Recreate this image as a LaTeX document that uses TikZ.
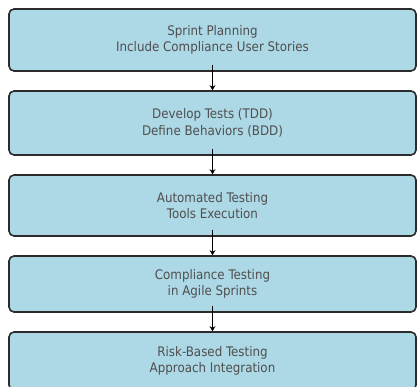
\documentclass[tikz,border=0pt]{standalone}
\usepackage{fontspec}
\setmainfont{DejaVu Sans Condensed}
\usetikzlibrary{arrows.meta}
\definecolor{boxfill}{HTML}{ADD8E6}
\definecolor{boxline}{HTML}{2B2B2B}
\definecolor{textgray}{HTML}{4F4F4F}
\begin{document}
\begin{tikzpicture}[x=1pt,y=1pt,
  stagebox/.style={draw=boxline, line width=1.6pt, fill=boxfill, rounded corners=5pt,
    minimum width=407pt, align=center, text=textgray,
    font=\fontsize{13.2}{16.5}\selectfont, inner sep=0pt},
  flow/.style={line width=1.8pt, draw=black, shorten <=-7pt,
    -{Stealth[length=5pt,width=6pt]}}]
\useasboundingbox (0,0) rectangle (417,-387);
\node[stagebox, minimum height=62pt] (s1) at (212.5,-40)
  {Sprint Planning\\Include Compliance User Stories};
\node[stagebox, minimum height=64pt] (s2) at (212.5,-123)
  {Develop Tests (TDD)\\Define Behaviors (BDD)};
\node[stagebox, minimum height=61pt] (s3) at (212.5,-205.5)
  {Automated Testing\\Tools Execution};
\node[stagebox, minimum height=56pt] (s4) at (212.5,-284)
  {Compliance Testing\\in Agile Sprints};
\node[stagebox, minimum height=58pt] (s5) at (212.5,-361)
  {Risk-Based Testing\\Approach Integration};
\draw[flow] (s1.south) -- (s2.north);
\draw[flow] (s2.south) -- (s3.north);
\draw[flow] (s3.south) -- (s4.north);
\draw[flow] (s4.south) -- (s5.north);
\end{tikzpicture}
\end{document}
